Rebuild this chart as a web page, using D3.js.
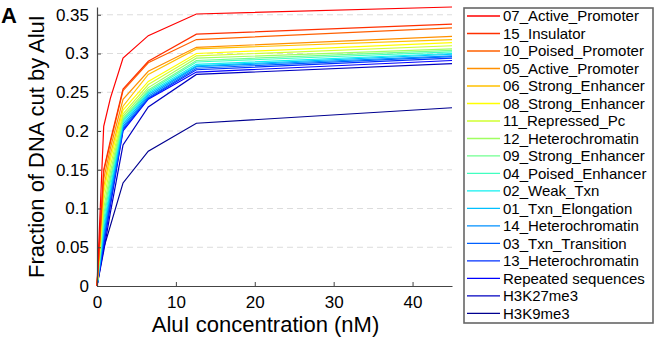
<!DOCTYPE html>
<html>
<head>
<meta charset="utf-8">
<script src="https://cdn.jsdelivr.net/npm/d3@7"></script>
<style>
  body { margin: 0; background: #fff; }
  svg { display: block; font-family: "Liberation Sans", Arial, Helvetica, sans-serif; }
</style>
</head>
<body>
<svg id="chart" width="654" height="338"></svg>
<script>
// AluI concentrations (nM) where each state was measured
const concentrations = [0, 0.85, 1.7, 3.3, 6.5, 12.6, 45]

const stateNames = [
    '07_Active_Promoter', '15_Insulator', '10_Poised_Promoter', '05_Active_Promoter',
    '06_Strong_Enhancer', '08_Strong_Enhancer', '11_Repressed_Pc', '12_Heterochromatin',
    '09_Strong_Enhancer', '04_Poised_Enhancer', '02_Weak_Txn', '01_Txn_Elongation',
    '14_Heterochromatin', '03_Txn_Transition', '13_Heterochromatin', 'Repeated sequences',
    'H3K27me3', 'H3K9me3'
]

const stateColors = [
    '#ff0000', '#ff3000', '#ff6000', '#ff9000', '#ffc000', '#ffff00', '#d0ff30', '#a0ff60',
    '#70ff90', '#40ffc0', '#10f0f0', '#00c0ff', '#0090ff', '#0060ff', '#0030ff', '#0000ff',
    '#0000c0', '#000090'
]

// fraction of DNA cut, one row per state, one value per concentration
const fractionCut = [
    [0, 0.206, 0.2425, 0.294, 0.323, 0.351, 0.360],
    [0, 0.150, 0.188, 0.254, 0.290, 0.325, 0.338],
    [0, 0.148, 0.185, 0.252, 0.288, 0.318, 0.333],
    [0, 0.138, 0.178, 0.241, 0.277, 0.308, 0.322],
    [0, 0.128, 0.170, 0.232, 0.273, 0.306, 0.318],
    [0, 0.120, 0.163, 0.227, 0.264, 0.300, 0.314],
    [0, 0.110, 0.155, 0.222, 0.260, 0.297, 0.310],
    [0, 0.100, 0.147, 0.219, 0.256, 0.294, 0.306],
    [0, 0.092, 0.140, 0.216, 0.253, 0.291, 0.304],
    [0, 0.085, 0.135, 0.214, 0.251, 0.289, 0.302],
    [0, 0.078, 0.128, 0.212, 0.249, 0.286, 0.300],
    [0, 0.072, 0.123, 0.209, 0.247, 0.284, 0.299],
    [0, 0.066, 0.118, 0.206, 0.245, 0.283, 0.297],
    [0, 0.060, 0.112, 0.204, 0.243, 0.281, 0.296],
    [0, 0.056, 0.108, 0.202, 0.242, 0.279, 0.294],
    [0, 0.052, 0.104, 0.200, 0.241, 0.276, 0.291],
    [0, 0.045, 0.095, 0.182, 0.231, 0.273, 0.287],
    [0, 0.049, 0.078, 0.133, 0.174, 0.210, 0.230]
]

const xTicks = [0, 10, 20, 30, 40]
const yTicks = [0, 0.05, 0.1, 0.15, 0.2, 0.25, 0.3, 0.35]

const margin = { top: 7, right: 202, bottom: 52, left: 97 }
const svg = d3.select('#chart')
const width = 654 - margin.left - margin.right
const height = 338 - margin.top - margin.bottom

const chart = svg.append('g')
    .attr('transform', `translate(${margin.left},${margin.top})`)

const xScale = d3.scaleLinear().domain([0, 45]).range([0, width])
const yScale = d3.scaleLinear().domain([0, 0.36]).range([height, 0])

// dashed horizontal grid
chart.append('g')
    .selectAll('line')
    .data(yTicks.filter(d => d > 0))
    .join('line')
        .attr('x1', 0)
        .attr('x2', width)
        .attr('y1', d => yScale(d))
        .attr('y2', d => yScale(d))
        .attr('stroke', '#dcdcdc')
        .attr('stroke-width', 1)
        .attr('stroke-dasharray', '6,4')

const line = d3.line()
    .x((d, i) => xScale(concentrations[i]))
    .y(d => yScale(d))

// draw bottom series first so the red one ends up on top
chart.append('g')
    .selectAll('path')
    .data(fractionCut.map((v, i) => ({ values: v, color: stateColors[i] })).reverse())
    .join('path')
        .attr('d', d => line(d.values))
        .attr('fill', 'none')
        .attr('stroke', d => d.color)
        .attr('stroke-width', 1.2)

const xAxis = d3.axisBottom(xScale).tickValues(xTicks).tickSizeInner(-4).tickSizeOuter(0).tickPadding(8)
const yAxis = d3.axisLeft(yScale).tickValues(yTicks).tickSizeInner(-4).tickSizeOuter(0).tickPadding(8)
    .tickFormat(d => d === 0 ? '0' : String(+d.toFixed(2)))

const xAxisG = chart.append('g')
    .attr('transform', `translate(0,${height})`)
    .call(xAxis)
const yAxisG = chart.append('g')
    .call(yAxis)

for (const g of [xAxisG, yAxisG]) {
    g.select('.domain').attr('stroke', '#444').attr('stroke-width', 1.2)
    g.selectAll('.tick line').attr('stroke', '#444')
    g.selectAll('.tick text')
        .attr('fill', '#000')
        .style('font-size', '17px')
        .style('font-family', '"Liberation Sans", Arial, sans-serif')
}
xAxisG.selectAll('.tick text').attr('dy', '0.8em')

svg.append('text')
    .attr('x', margin.left + xScale(22.5) - 9)
    .attr('y', 332)
    .attr('text-anchor', 'middle')
    .style('font-size', '22px')
    .text('AluI concentration (nM)')

svg.append('text')
    .attr('transform', `translate(44,${margin.top + height / 2}) rotate(-90)`)
    .attr('text-anchor', 'middle')
    .style('font-size', '22px')
    .text('Fraction of DNA cut by AluI')

svg.append('text')
    .attr('x', 1)
    .attr('y', 23)
    .style('font-size', '22px')
    .style('font-weight', 'bold')
    .text('A')

// legend
const legend = svg.append('g')
    .attr('transform', 'translate(463,7)')

legend.append('rect')
    .attr('x', 1)
    .attr('y', 1)
    .attr('width', 189)
    .attr('height', 315)
    .attr('fill', 'none')
    .attr('stroke', '#666')
    .attr('stroke-width', 1.6)

const legendRow = legend.selectAll('.legend-row')
    .data(stateNames)
    .join('g')
        .attr('class', 'legend-row')
        .attr('transform', (d, i) => `translate(0,${9 + i * 17.49})`)

legendRow.append('line')
    .attr('x1', 4)
    .attr('x2', 37)
    .attr('stroke', (d, i) => stateColors[i])
    .attr('stroke-width', 1.4)

legendRow.append('text')
    .attr('x', 40)
    .attr('dy', '0.36em')
    .style('font-size', '15px')
    .text(d => d)
</script>
</body>
</html>
